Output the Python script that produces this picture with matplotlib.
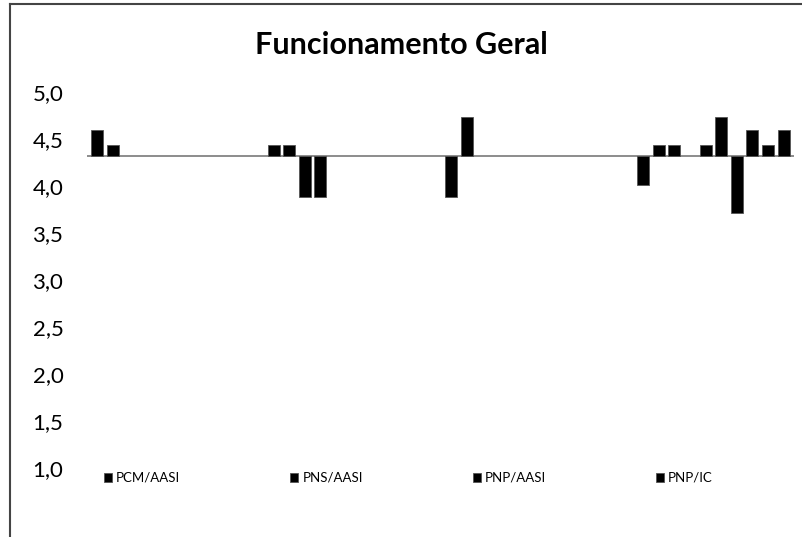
import matplotlib
matplotlib.use("Agg")
import matplotlib.pyplot as plt
from matplotlib.lines import Line2D

plt.rcParams['font.family'] = ['Lato', 'DejaVu Sans']

title = "Funcionamento Geral"
groups = ["PCM/AASI", "PNS/AASI", "PNP/AASI", "PNP/IC"]

# bar slot positions and values for each group
pcm_aasi_pos = [0, 1]
pcm_aasi_val = [4.60, 4.44]
pns_aasi_pos = [11.3, 12.3, 13.3, 14.3]
pns_aasi_val = [4.44, 4.44, 3.88, 3.88]
pnp_aasi_pos = [22.7, 23.7]
pnp_aasi_val = [3.88, 4.73]
pnp_ic_pos = [35, 36, 37, 39, 40, 41, 42, 43, 44]
pnp_ic_val = [4.01, 4.44, 4.44, 4.44, 4.73, 3.71, 4.60, 4.44, 4.60]

baseline = 4.32
yticks = [1.0, 1.5, 2.0, 2.5, 3.0, 3.5, 4.0, 4.5, 5.0]

fig = plt.figure(figsize=(8.02, 5.37), dpi=100)
W, H = 802, 537
ax = fig.add_axes([87 / W, (H - 468) / H, 707 / W, 376 / H])

series = [(pcm_aasi_pos, pcm_aasi_val), (pns_aasi_pos, pns_aasi_val),
          (pnp_aasi_pos, pnp_aasi_val), (pnp_ic_pos, pnp_ic_val)]
handles = []
for name, (pos, vals) in zip(groups, series):
    heights = [v - baseline for v in vals]
    b = ax.bar(pos, heights, bottom=baseline, width=0.77, color="black",
               edgecolor="#555555", linewidth=0.6, label=name)
    handles.append(b)

ax.axhline(baseline, color="#8c8c8c", lw=1.4, zorder=0)

ax.set_xlim(-0.67, 44.67)
ax.set_ylim(1.0, 5.0)
ax.set_xticks([])
ax.set_yticks(yticks)
ax.set_yticklabels([f"{t:.1f}".replace(".", ",") for t in yticks],
                   fontsize=16, color="black")
ax.tick_params(axis="y", length=0, pad=17)
for s in ax.spines.values():
    s.set_visible(False)
ax.patch.set_alpha(0)

fig.text(401 / W, 1 - 45 / H, title, ha="center", va="center",
         fontsize=22, fontweight="bold")

leg = fig.legend(handles=handles, labels=groups, ncol=4, frameon=False,
                 loc="center left", bbox_to_anchor=(99 / W, 1 - 478 / H),
                 fontsize=9.5, handlelength=0.6, handleheight=0.6,
                 handletextpad=0.3, columnspacing=8.35, borderaxespad=0)

# outer chart frame (top and left edges only are visible)
fig.add_artist(Line2D([10 / W, 1], [1 - 4 / H, 1 - 4 / H], color="#444444", lw=1.5))
fig.add_artist(Line2D([10 / W, 10 / W], [0, 1 - 4 / H], color="#444444", lw=1.5))

fig.savefig("out.png", dpi=100)
